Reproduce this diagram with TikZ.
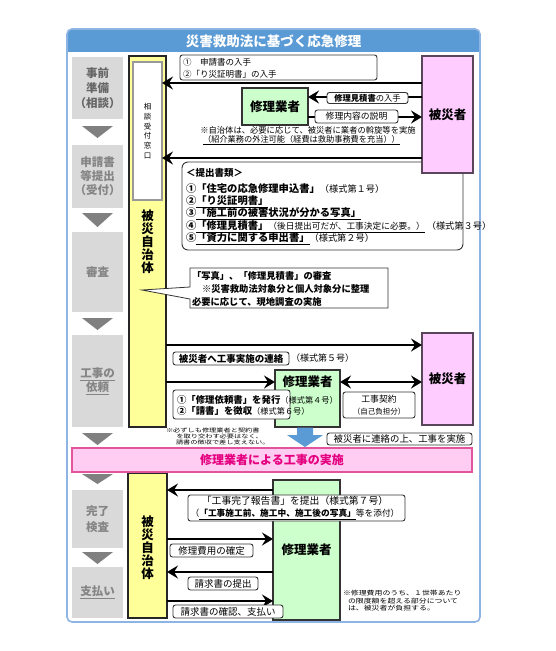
\documentclass[tikz,border=0pt]{standalone}
\usepackage{fontspec}
\usepackage{graphicx}
\setmainfont{Noto Sans CJK JP}
\usetikzlibrary{arrows.meta}
\definecolor{headc}{HTML}{5B9BD5}
\definecolor{framec}{HTML}{8EB4E3}
\definecolor{grayc}{HTML}{D9D9D9}
\definecolor{trig}{HTML}{808080}
\definecolor{yel}{HTML}{FFFF99}
\definecolor{pnk}{HTML}{FFCCFF}
\definecolor{vicd}{HTML}{5A465A}
\definecolor{grn}{HTML}{CCFFCC}
\definecolor{barf}{HTML}{FFCCF2}
\definecolor{bard}{HTML}{E2559C}
\definecolor{bart}{HTML}{E4007F}
\definecolor{stxtd}{HTML}{666666}
\definecolor{stxt}{HTML}{858585}
\newcommand{\myfs}[2]{\fontsize{#1}{#2}\selectfont}
\tikzset{
  stagebox/.style={fill=grayc, outer sep=0pt, inner sep=0pt, align=center, font=\bfseries\myfs{11.5}{14}, text=stxt},
  yelbox/.style={draw=black!85, fill=yel, line width=1.2pt, outer sep=0pt, inner sep=0pt},
  winbox/.style={draw=black!40, fill=white, line width=1.5pt, outer sep=0pt, inner sep=0pt},
  vicbox/.style={draw=vicd, fill=pnk, line width=1.3pt, outer sep=0pt, inner sep=0pt, font=\bfseries\myfs{12.5}{12.5}},
  grnbox/.style={draw=black!80, fill=grn, line width=1.1pt, outer sep=0pt, inner sep=0pt, font=\bfseries\myfs{12.5}{12.5}},
  lbl/.style={draw=black!80, fill=white, rounded corners=2.5pt, line width=0.9pt, inner sep=0pt, outer sep=0pt},
  txt/.style={inner sep=0pt, outer sep=0pt},
  arr/.style={line width=2.5pt, -{Stealth[length=11pt,width=13pt,inset=4pt]}},
  arrboth/.style={line width=2.5pt, {Stealth[length=11pt,width=13pt,inset=4pt]}-{Stealth[length=11pt,width=13pt,inset=4pt]}},
  tri/.style={fill=trig}
}
\begin{document}
\begin{tikzpicture}[x=1pt,y=-1pt]
\useasboundingbox (0,0) rectangle (556,651);
\fill[white] (0,0) rectangle (556,651);
% frame and header
\begin{scope}
\clip[rounded corners=5pt] (67,29) rectangle (480,622);
\fill[headc] (67,29) rectangle (480,52);
\end{scope}
\draw[framec, line width=1.6pt, rounded corners=5pt] (67,29) rectangle (480,622);
\node[txt, font=\bfseries\myfs{13.5}{13.5}, text=white] (title) at (273.5,41) {災害救助法に基づく応急修理};

% left stages
\node[stagebox, minimum width=51, minimum height=62, text=stxtd, font=\bfseries\myfs{11.5}{15}] (s1) at (97.5,88) {事前\\準備\\（相談）};
\node[stagebox, minimum width=51, minimum height=63] (s2) at (97.5,176.5) {申請書\\等提出\\（受付）};
\node[stagebox, minimum width=51, minimum height=80] (s3) at (97.5,272) {審査};
\node[stagebox, minimum width=51, minimum height=92] (s4) at (97.5,381) {\underline{工事の}\\\underline{依頼}};
\node[stagebox, minimum width=51, minimum height=58, font=\bfseries\myfs{11.5}{16}] (s5) at (97.5,519) {完了\\検査};
\node[stagebox, minimum width=51, minimum height=51] (s6) at (97.5,592.5) {\underline{支払い}};
\fill[tri] (82,126) -- (113,126) -- (97.5,138) -- cycle;
\fill[tri] (82,213) -- (113,213) -- (97.5,227) -- cycle;
\fill[tri] (82,318) -- (113,318) -- (97.5,330) -- cycle;
\fill[tri] (82,433) -- (113,433) -- (97.5,445) -- cycle;
\fill[tri] (82,474) -- (113,474) -- (97.5,484) -- cycle;
\fill[tri] (82,552) -- (113,552) -- (97.5,564) -- cycle;

% municipality columns
\node[yelbox, minimum width=37, minimum height=371] (y1) at (147.5,241.5) {};
\node[winbox, minimum width=29, minimum height=138] (win) at (147.5,131) {};
\node[txt, align=center, font=\myfs{7.5}{9.7}] (wint) at (147.5,131) {相\\談\\受\\付\\窓\\口};
\node[txt, align=center, font=\bfseries\myfs{12.5}{13}] (y1t) at (147.5,242) {被\\災\\自\\治\\体};
\node[yelbox, minimum width=39, minimum height=145] (y2) at (147.5,545.5) {};
\node[txt, align=center, font=\bfseries\myfs{12.5}{13}] (y2t) at (147.5,548) {被\\災\\自\\治\\体};

% documents box (under victim box)
\node[lbl, rounded corners=6pt, minimum width=281, minimum height=88] (docs) at (322.5,206) {};

% victims and contractors
\node[vicbox, minimum width=51, minimum height=117] (v1) at (447.5,114.5) {被災者};
\node[vicbox, minimum width=51, minimum height=92] (v2) at (447.5,379) {被災者};
\node[grnbox, minimum width=66, minimum height=37] (g1) at (275,106.5) {修理業者};
\node[grnbox, minimum width=65, minimum height=57] (g2) at (307.5,398.5) {};
\node[txt, font=\bfseries\myfs{12.5}{12.5}] (g2t) at (307.5,382) {修理業者};
\node[grnbox, minimum width=67, minimum height=140] (g3) at (306.5,550) {修理業者};

% --- top section
\node[lbl, minimum width=197, minimum height=25] (lb1) at (278.5,67.5) {};
\node[txt, anchor=west, align=left, font=\myfs{8.5}{11.5}] (lb1t) at (183,68.5) {①　申請書の入手\\②「り災証明書」の入手};
\draw[arr] (v1.west |- 0,83) -- (win.east |- 0,83);
\draw[arr] (v1.west |- 0,97) -- (g1.east |- 0,97);
\draw[arr] (g1.east |- 0,117) -- (v1.west |- 0,117);
\node[lbl, minimum width=81, minimum height=11, font=\myfs{8.3}{8.3}] (lb2) at (367.5,98) {\textbf{修理見積書}の入手};
\node[lbl, minimum width=83, minimum height=13, font=\myfs{8.8}{8.8}] (lb3) at (356.5,116.5) {修理内容の説明};
\node[txt, font=\myfs{8.3}{8.3}] (n1) at (308,130) {※自治体は、必要に応じて、被災者に業者の斡旋等を実施};
\node[txt, font=\myfs{8.2}{8.2}] (n2) at (301.5,140) {\underline{（紹介業務の外注可能（経費は救助事務費を充当））}};

% --- application
\draw[arr] (v1.west |- 0,158) -- (win.east |- 0,158);
\node[txt, anchor=west, font=\bfseries\myfs{9.5}{9.5}] (d0) at (186,173) {＜提出書類＞};
\node[txt, anchor=west, font=\myfs{9.2}{9.2}] (d1) at (186,189) {{\bfseries\myfs{10.3}{10.3}①「住宅の応急修理申込書」}（様式第１号）};
\node[txt, anchor=west, font=\bfseries\myfs{10.3}{10.3}] (d2) at (186,201.5) {②\underline{「り災証明書」}};
\node[txt, anchor=west, font=\bfseries\myfs{10.3}{10.3}] (d3) at (186,214) {③\underline{「施工前の被害状況が分かる写真」}};
\node[txt, anchor=west, font=\myfs{9.2}{9.2}] (d4) at (186,226.5) {{\bfseries\myfs{10.3}{10.3}④\underline{「修理見積書」{\mdseries\myfs{8.7}{8.7}（後日提出可だが、工事決定に必要。）}}}\hspace{2pt}（様式第３号）};
\node[txt, anchor=west, font=\myfs{9.2}{9.2}] (d5) at (186,239) {{\bfseries\myfs{10.3}{10.3}⑤\underline{「資力に関する申出書」}}（様式第２号）};

% --- examination callout
\draw[black!80, line width=0.8pt, fill=white] (190,268) -- (388,268) -- (388,308) -- (190,308) -- (190,299) -- (142,290) -- (190,287) -- cycle;
\node[txt, anchor=west, font=\bfseries\myfs{9.3}{9.3}] (c1) at (192,276) {「写真」、「修理見積書」の審査};
\node[txt, anchor=west, font=\bfseries\myfs{9.3}{9.3}] (c2) at (202,289) {※災害救助法対象分と個人対象分に整理};
\node[txt, anchor=west, font=\bfseries\myfs{9.3}{9.3}] (c3) at (192,301.5) {必要に応じて、現地調査の実施};

% --- order
\draw[arr] (y1.east |- 0,345) -- (v2.west |- 0,345);
\node[lbl, minimum width=116, minimum height=13, font=\bfseries\myfs{9.5}{9.5}] (lb5) at (231,358.5) {被災者へ工事実施の連絡};
\node[txt, anchor=west, font=\myfs{9}{9}] (t5) at (291,358.5) {（様式第５号）};
\draw[arr] (y1.east |- 0,382) -- (g2.west |- 0,382);
\draw[arrboth] (g2.east |- 0,382) -- (v2.west |- 0,382);
\node[lbl, minimum width=72, minimum height=26, align=center, font=\myfs{8.8}{12.5}] (lb7) at (379,405) {工事契約\\{\myfs{7.5}{7.5}（自己負担分）}};
\node[lbl, minimum width=117, minimum height=29] (lb6) at (231.5,404.5) {};
\node[txt, anchor=west, font=\myfs{8.2}{8.2}] (t6a) at (177,399.5) {{\bfseries\myfs{9.4}{9.4}①「修理依頼書」を発行}（様式第４号）};
\node[txt, anchor=west, font=\myfs{8.2}{8.2}] (t6b) at (177,411) {{\bfseries\myfs{9.4}{9.4}②「請書」を徴収}（様式第６号）};
\node[txt, anchor=north west, font=\myfs{7.2}{7.6}] (n3) at (166,427.5) {\scalebox{1}[0.75]{\begin{tabular}{@{}l@{}}※必ずしも修理業者と契約書\\\hspace{10.5pt}を取り交わす必要はなく、\\\hspace{10pt}請書の徴収で差し支えない。\end{tabular}}};
\fill[headc] (297,427.5) -- (313,427.5) -- (313,435) -- (323,435) -- (305,447) -- (287,435) -- (297,435) -- cycle;
\node[lbl, minimum width=145, minimum height=12, font=\myfs{9.4}{9.4}] (lb8) at (399.5,439) {被災者に連絡の上、工事を実施};

% --- construction bar
\node[draw=bard, fill=barf, line width=1.5pt, minimum width=400, minimum height=24, inner sep=0pt, font=\bfseries\myfs{12}{12}, text=bart] (bar) at (272,460) {修理業者による工事の実施};

% --- completion and payment
\draw[arr] (g3.west |- 0,490) -- (y2.east |- 0,490);
\node[lbl, minimum width=217, minimum height=26] (lb9) at (296.5,508) {};
\node[txt, align=center, font=\myfs{9.8}{12}] (lb9t) at (295,508) {「工事完了報告書」を提出（様式第７号）\\{\myfs{8.7}{8.7}（\underline{\bfseries「工事施工前、施工中、施工後の写真」}等を添付）}};
\draw[arr] (y2.east |- 0,539) -- (g3.west |- 0,539);
\node[lbl, minimum width=83, minimum height=13, font=\myfs{9.5}{9.5}] (lb10) at (211.5,550.5) {修理費用の確定};
\draw[arr] (g3.west |- 0,572) -- (y2.east |- 0,572);
\node[lbl, minimum width=70, minimum height=13, font=\myfs{9.5}{9.5}] (lb11) at (223,583.5) {請求書の提出};
\draw[arr] (y2.east |- 0,601) -- (g3.west |- 0,601);
\node[lbl, minimum width=110, minimum height=13, font=\myfs{9.5}{9.5}] (lb12) at (228,611.5) {請求書の確認、支払い};
\node[txt, anchor=north west, font=\myfs{7.9}{8}] (n4) at (343,590.5) {\scalebox{1}[0.8]{\begin{tabular}{@{}l@{}}※修理費用のうち、１世帯あたり\\\hspace{5pt}の限度額を超える部分について\\\hspace{5pt}は、被災者が負担する。\end{tabular}}};
\end{tikzpicture}
\end{document}
